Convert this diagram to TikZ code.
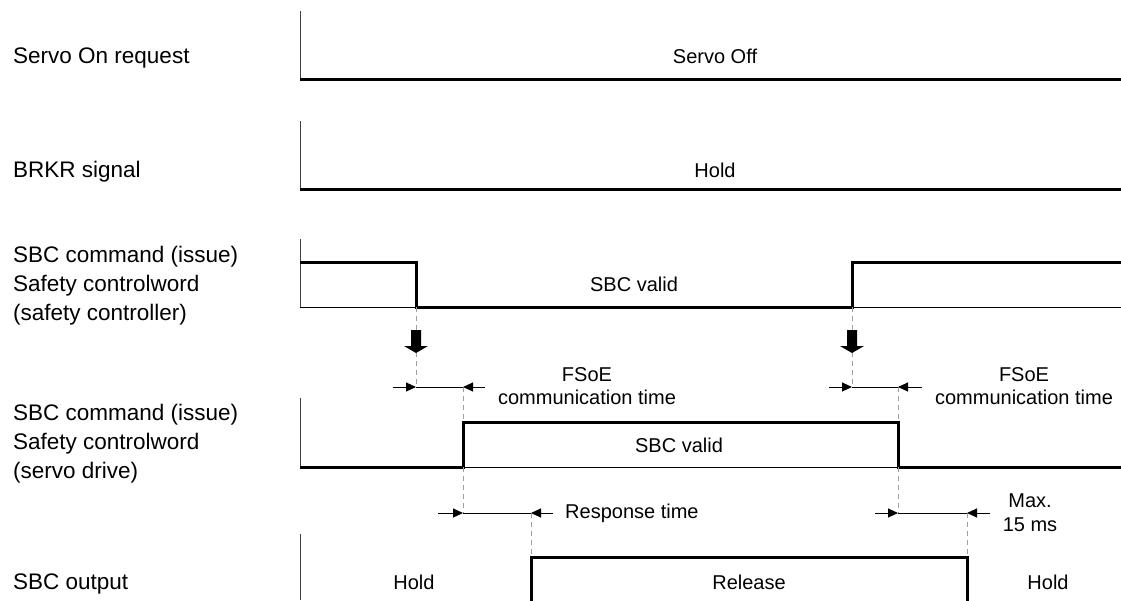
\documentclass[tikz,border=0pt]{standalone}
\usepackage{fontspec}
\setmainfont{Liberation Sans}
\usetikzlibrary{arrows.meta}

\tikzset{
  sig/.style={line width=3pt},
  axisline/.style={line width=1.2pt, draw=black!75},
  zeroline/.style={line width=1pt},
  guide/.style={draw=black!38, line width=1pt, dash pattern=on 5pt off 4pt},
  dimline/.style={line width=1pt},
  dimtip/.style={line width=1pt, -{Triangle[length=10pt,width=9pt]}},
  lbl/.style={font=\fontsize{22.5}{29}\selectfont, align=left, anchor=west, inner sep=0pt},
  txt/.style={font=\fontsize{20}{23}\selectfont, align=center, inner sep=0pt},
  blockarrow/.pic={\fill (-5,0) -- (5,0) -- (5,16) -- (12,16) -- (0,23) -- (-12,16) -- (-5,16) -- cycle;}
}

\begin{document}
\begin{tikzpicture}[x=1pt,y=-1pt]
\useasboundingbox (0,0) rectangle (1121,600);

% ---- signal names on the left
\node[lbl, anchor=base west] (l1) at (13,63) {Servo On request};
\node[lbl, anchor=base west] (l2) at (13,177) {BRKR signal};
\node[lbl] (l3) at (13,286) {SBC command (issue)\\Safety controlword\\(safety controller)};
\node[lbl] (l4) at (13,444) {SBC command (issue)\\Safety controlword\\(servo drive)};
\node[lbl, anchor=base west] (l5) at (13,589) {SBC output};

% ---- row 1: Servo On request
\coordinate (a1t) at (300.5,11);  \coordinate (a1b) at (300.5,79);
\coordinate (s1a) at (300,79);    \coordinate (s1b) at (1121,79);
\draw[axisline] (a1t) -- (a1b);
\draw[sig] (s1a) -- (s1b);
\node[txt, anchor=base] (t1) at (715,63) {Servo Off};

% ---- row 2: BRKR signal
\coordinate (a2t) at (300.5,121); \coordinate (a2b) at (300.5,189);
\coordinate (s2a) at (300,189);   \coordinate (s2b) at (1121,189);
\draw[axisline] (a2t) -- (a2b);
\draw[sig] (s2a) -- (s2b);
\node[txt, anchor=base] (t2) at (715,177) {Hold};

% ---- row 3: safety controller control word
\coordinate (a3t) at (300.5,239); \coordinate (a3b) at (300.5,307);
\coordinate (b3a) at (300,307);   \coordinate (b3b) at (1121,307);
\coordinate (s3a) at (300,262);
\coordinate (s3b) at (416,262);   \coordinate (s3c) at (416,307);
\coordinate (s3d) at (852,307);   \coordinate (s3e) at (852,262);
\coordinate (s3f) at (1121,262);
\draw[axisline] (a3t) -- (a3b);
\draw[zeroline] (b3a) -- (b3b);
\draw[sig] (s3a) -- (s3b) -- (s3c) -- (s3d) -- (s3e) -- (s3f);
\node[txt, anchor=base] (t3) at (634,291.5) {SBC valid};

% ---- row 4: servo drive control word
\coordinate (a4t) at (300.5,398); \coordinate (a4b) at (300.5,467);
\coordinate (b4a) at (300,467);   \coordinate (b4b) at (1121,467);
\coordinate (s4a) at (300,467);
\coordinate (s4b) at (463,467);   \coordinate (s4c) at (463,422);
\coordinate (s4d) at (898,422);   \coordinate (s4e) at (898,467);
\coordinate (s4f) at (1121,467);
\draw[axisline] (a4t) -- (a4b);
\draw[zeroline] (b4a) -- (b4b);
\draw[sig] (s4a) -- (s4b) -- (s4c) -- (s4d) -- (s4e) -- (s4f);
\node[txt, anchor=base] (t4) at (679,452) {SBC valid};

% ---- row 5: SBC output
\coordinate (a5t) at (300.5,534); \coordinate (a5b) at (300.5,600);
\coordinate (s5a) at (531,601);
\coordinate (s5b) at (531,557);   \coordinate (s5c) at (967,557);
\coordinate (s5d) at (967,601);
\draw[axisline] (a5t) -- (a5b);
\draw[sig] (s5a) -- (s5b) -- (s5c) -- (s5d);
\node[txt, anchor=base] (t5a) at (414,589) {Hold};
\node[txt, anchor=base] (t5b) at (749,589) {Release};
\node[txt, anchor=base] (t5c) at (1048,589) {Hold};

% ---- dashed guide lines
\coordinate (g1a) at (416,387);  \coordinate (g2a) at (463,387);
\coordinate (g3a) at (852,387);  \coordinate (g4a) at (898,387);
\coordinate (g5a) at (463,513);  \coordinate (g6a) at (898,513);
\coordinate (g7a) at (531,513);  \coordinate (g8a) at (967,513);
\draw[guide] (s3c) -- (g1a);
\draw[guide] (g2a) -- (s4c);
\draw[guide] (s3d) -- (g3a);
\draw[guide] (g4a) -- (s4d);
\draw[guide] (s4b) -- (g5a);
\draw[guide] (s4e) -- (g6a);
\draw[guide] (g7a) -- (s5b);
\draw[guide] (g8a) -- (s5c);

% ---- block arrows: command passed to the drive
\pic at (416,330) {blockarrow};
\pic at (852,330) {blockarrow};

% ---- FSoE communication time (left)
\coordinate (d1l) at (393,387); \coordinate (d1r) at (485,387);
\draw[dimtip] (d1l) -- (g1a);
\draw[dimline] (g1a) -- (g2a);
\draw[dimtip] (d1r) -- (g2a);
\node[txt] (f1) at (587,386) {FSoE\\communication time};

% ---- FSoE communication time (right)
\coordinate (d2l) at (829,387); \coordinate (d2r) at (922,387);
\draw[dimtip] (d2l) -- (g3a);
\draw[dimline] (g3a) -- (g4a);
\draw[dimtip] (d2r) -- (g4a);
\node[txt] (f2) at (1024,386) {FSoE\\communication time};

% ---- response time
\coordinate (d3l) at (438,513); \coordinate (d3r) at (553,513);
\draw[dimtip] (d3l) -- (g5a);
\draw[dimline] (g5a) -- (g7a);
\draw[dimtip] (d3r) -- (g7a);
\node[txt, anchor=west] (r1) at (565,513) {Response time};

% ---- max. 15 ms
\coordinate (d4l) at (875,513); \coordinate (d4r) at (990,513);
\draw[dimtip] (d4l) -- (g6a);
\draw[dimline] (g6a) -- (g8a);
\draw[dimtip] (d4r) -- (g8a);
\node[txt, font=\fontsize{20}{24}\selectfont] (m1) at (1030,512.5) {Max.\\15 ms};

\end{tikzpicture}
\end{document}
